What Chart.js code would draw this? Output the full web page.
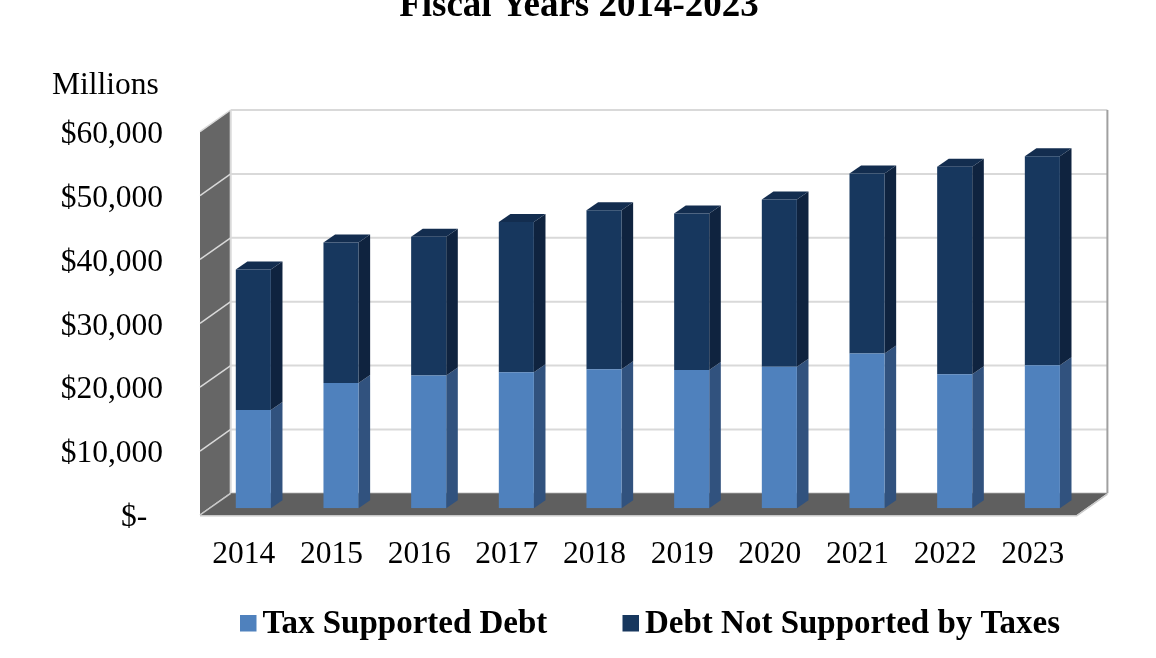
<!DOCTYPE html>
<html>
<head>
<meta charset="utf-8">
<title>Debt Outstanding, Fiscal Years 2014-2023</title>
<script src="https://cdn.jsdelivr.net/npm/chart.js@4.4.1/dist/chart.umd.min.js"></script>
<style>
  html, body { margin: 0; padding: 0; background: #ffffff; }
  canvas { display: block; }
</style>
</head>
<body>
<canvas id="debtChart" width="1156" height="658"></canvas>
<script>
// Fiscal years shown on the category axis
const fiscalYears = ['2014', '2015', '2016', '2017', '2018', '2019', '2020', '2021', '2022', '2023'];

// Outstanding debt, in millions of dollars
const taxSupportedDebt = [15400, 19600, 20800, 21300, 21750, 21650, 22150, 24250, 21000, 22400];
const debtNotSupportedByTaxes = [22000, 22000, 21700, 23500, 24900, 24500, 26200, 28150, 32450, 32700];

// Value axis ticks (millions)
const valueTicks = [0, 10000, 20000, 30000, 40000, 50000, 60000];

const seriesNames = ['Tax Supported Debt', 'Debt Not Supported by Taxes'];
const titleText = 'Fiscal Years 2014-2023';
const unitText = 'Millions';

// Face colours for the extruded columns
const faceColors = [
  { front: '#4f81bd', side: '#31527e', top: '#3e6698' },
  { front: '#17375e', side: '#0f233f', top: '#132d4f' }
];

// Oblique depth offsets: walls/floor, column front plane, column thickness
const WALL_DEPTH = { dx: 30.7, dy: 21.7 };
const COLUMN_SHIFT = { dx: 9.5, dy: 6.7 };
const COLUMN_DEPTH = { dx: 11.6, dy: 8 };

const SERIF = "'Liberation Serif', 'Times New Roman', serif";

function formatMoney(v) {
  if (v === 0) return '$-  ';
  return '$' + v.toLocaleString('en-US');
}

// Draws the back wall, side wall, floor and gridlines in oblique projection
const wallsPlugin = {
  id: 'walls3d',
  beforeDraw(chart) {
    const { ctx, chartArea, scales } = chart;
    const y = scales.y;
    const L = chartArea.left, R = chartArea.right;
    const top = y.getPixelForValue(valueTicks[valueTicks.length - 1]);
    const bot = y.getPixelForValue(0);
    const dx = WALL_DEPTH.dx, dy = WALL_DEPTH.dy;

    ctx.save();
    ctx.fillStyle = '#ffffff';
    ctx.fillRect(0, 0, chart.width, chart.height);

    // side wall
    ctx.fillStyle = '#666666';
    ctx.beginPath();
    ctx.moveTo(L, top);
    ctx.lineTo(L + dx, top - dy);
    ctx.lineTo(L + dx, bot - dy);
    ctx.lineTo(L, bot);
    ctx.closePath();
    ctx.fill();

    // back wall gridlines
    ctx.strokeStyle = '#d9d9d9';
    ctx.lineWidth = 2;
    valueTicks.forEach(v => {
      const py = y.getPixelForValue(v) - dy;
      ctx.beginPath();
      ctx.moveTo(L + dx, py);
      ctx.lineTo(R + dx, py);
      ctx.stroke();
    });

    // back wall right and left edges
    ctx.strokeStyle = '#a0a0a0';
    ctx.beginPath();
    ctx.moveTo(R + dx, top - dy);
    ctx.lineTo(R + dx, bot - dy);
    ctx.stroke();
    ctx.strokeStyle = '#d9d9d9';
    ctx.beginPath();
    ctx.moveTo(L + dx, top - dy);
    ctx.lineTo(L + dx, bot - dy);
    ctx.stroke();

    // side wall gridlines
    ctx.lineWidth = 1.5;
    valueTicks.forEach(v => {
      const py = y.getPixelForValue(v);
      ctx.beginPath();
      ctx.moveTo(L, py);
      ctx.lineTo(L + dx, py - dy);
      ctx.stroke();
    });

    // floor
    ctx.fillStyle = '#5f5f5f';
    ctx.beginPath();
    ctx.moveTo(L, bot);
    ctx.lineTo(L + dx, bot - dy);
    ctx.lineTo(R + dx, bot - dy);
    ctx.lineTo(R, bot);
    ctx.closePath();
    ctx.fill();
    ctx.strokeStyle = '#c8c8c8';
    ctx.lineWidth = 1.5;
    ctx.beginPath();
    ctx.moveTo(L, bot + 0.75);
    ctx.lineTo(R, bot + 0.75);
    ctx.lineTo(R + dx, bot - dy + 0.75);
    ctx.stroke();
    ctx.beginPath();
    ctx.moveTo(L, bot);
    ctx.lineTo(L + dx, bot - dy);
    ctx.stroke();
    ctx.restore();
  },
  // columns sit slightly behind the axis plane; draw their side and top faces first
  beforeDatasetsDraw(chart) {
    const { ctx } = chart;
    ctx.save();
    ctx.translate(COLUMN_SHIFT.dx, -COLUMN_SHIFT.dy);
    const last = chart.data.datasets.length - 1;
    chart.data.datasets.forEach((ds, di) => {
      const meta = chart.getDatasetMeta(di);
      const col = faceColors[di];
      meta.data.forEach(bar => {
        const p = bar.getProps(['x', 'y', 'base', 'width'], true);
        const xr = p.x + p.width / 2;
        const xl = p.x - p.width / 2;
        const yt = Math.min(p.y, p.base), yb = Math.max(p.y, p.base);
        ctx.fillStyle = col.side;
        ctx.beginPath();
        ctx.moveTo(xr, yt);
        ctx.lineTo(xr + COLUMN_DEPTH.dx, yt - COLUMN_DEPTH.dy);
        ctx.lineTo(xr + COLUMN_DEPTH.dx, yb - COLUMN_DEPTH.dy);
        ctx.lineTo(xr, yb);
        ctx.closePath();
        ctx.fill();
        if (di === last) {
          ctx.fillStyle = col.top;
          ctx.beginPath();
          ctx.moveTo(xl, yt);
          ctx.lineTo(xl + COLUMN_DEPTH.dx, yt - COLUMN_DEPTH.dy);
          ctx.lineTo(xr + COLUMN_DEPTH.dx, yt - COLUMN_DEPTH.dy);
          ctx.lineTo(xr, yt);
          ctx.closePath();
          ctx.fill();
        }
      });
    });
  },
  afterDatasetsDraw(chart) {
    chart.ctx.restore();
  },
  // title, unit caption and legend
  afterDraw(chart) {
    const { ctx } = chart;
    ctx.save();
    ctx.fillStyle = '#000000';
    ctx.textBaseline = 'alphabetic';

    ctx.font = 'bold 37px ' + SERIF;
    ctx.textAlign = 'center';
    ctx.fillText(titleText, 579, 15.5);

    ctx.font = '31.5px ' + SERIF;
    ctx.textAlign = 'left';
    ctx.fillText(unitText, 52, 93.5);

    const legendX = [240, 622.5];
    ctx.font = 'bold 33px ' + SERIF;
    chart.data.datasets.forEach((ds, i) => {
      ctx.fillStyle = ds.backgroundColor;
      ctx.fillRect(legendX[i], 615, 16.5, 16.5);
      ctx.fillStyle = '#000000';
      ctx.fillText(ds.label, legendX[i] + 22.5, 633.3);
    });
    ctx.restore();
  }
};

new Chart(document.getElementById('debtChart'), {
  type: 'bar',
  data: {
    labels: fiscalYears,
    datasets: [
      {
        label: seriesNames[0],
        data: taxSupportedDebt,
        backgroundColor: faceColors[0].front,
        borderWidth: 0
      },
      {
        label: seriesNames[1],
        data: debtNotSupportedByTaxes,
        backgroundColor: faceColors[1].front,
        borderWidth: 0
      }
    ]
  },
  options: {
    responsive: false,
    devicePixelRatio: 1,
    animation: false,
    layout: { padding: { left: 0, right: 79.3, top: 131.7, bottom: 0 } },
    datasets: { bar: { categoryPercentage: 1.0, barPercentage: 0.4 } },
    plugins: {
      legend: { display: false },
      title: { display: false },
      tooltip: { enabled: false }
    },
    scales: {
      x: {
        stacked: true,
        grid: { display: false, drawTicks: false },
        border: { display: false },
        ticks: {
          color: '#000000',
          font: { family: SERIF, size: 31.5 },
          padding: 21,
          maxRotation: 0,
          autoSkip: false
        },
        afterFit(scale) { scale.height = 143; }
      },
      y: {
        stacked: true,
        min: valueTicks[0],
        max: valueTicks[valueTicks.length - 1],
        grid: { display: false, drawTicks: false },
        border: { display: false },
        afterBuildTicks(scale) {
          scale.ticks = valueTicks.map(v => ({ value: v }));
        },
        ticks: {
          color: '#000000',
          font: { family: SERIF, size: 31.5 },
          padding: 37,
          labelOffset: 3,
          callback: v => formatMoney(v)
        },
        afterFit(scale) { scale.width = 200; }
      }
    }
  },
  plugins: [wallsPlugin]
});
</script>
</body>
</html>
